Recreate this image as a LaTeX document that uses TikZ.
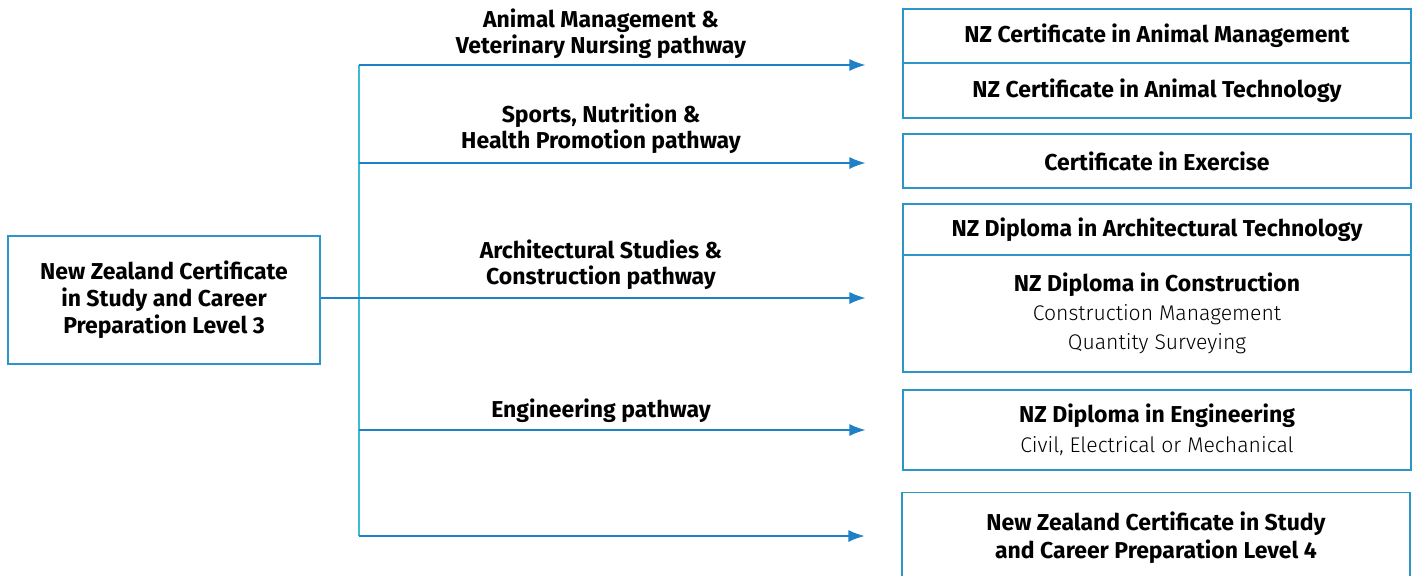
\documentclass[tikz,border=0pt]{standalone}
\usepackage{fontspec}
\setmainfont{Fira Sans}
\newfontfamily\lightfont{Fira Sans Light}
\usetikzlibrary{arrows.meta}
\definecolor{boxline}{RGB}{45,150,200}
\definecolor{flowline}{RGB}{30,128,198}
\definecolor{trunkline}{RGB}{60,188,210}
\tikzset{%
  >={Latex[width=6pt,length=8pt]},
  % Specifications for style of nodes:
       base/.style = {rectangle, draw=boxline, line width=0.6pt,
                      align=center, font=\bfseries\fontsize{11.5}{13.5}\selectfont},
    leftbox/.style = {base, minimum width=156pt, minimum height=64pt},
   rightbox/.style = {base, minimum width=254pt, inner sep=0pt},
  pathlabel/.style = {align=center, font=\bfseries\fontsize{11.5}{13}\selectfont},
       flow/.style = {->, draw=flowline, line width=0.6pt, shorten >=18.5pt},
                  }
\newcommand{\sub}[1]{{\lightfont\mdseries\fontsize{10.6}{14.5}\selectfont #1}}

\begin{document}
\begin{tikzpicture}[x=0.5pt, y=-0.5pt]
  \useasboundingbox (0,0) rectangle (1415,575);
  % Specification of nodes (position, etc.)
  \node (lvl3)    [leftbox]                        at (164,300)  {New Zealand Certificate\\in Study and Career\\Preparation Level 3};
  \node (animMgmt) [rightbox, minimum height=27pt]  at (1157,36)  {NZ Certificate in Animal Management};
  \node (animTech) [rightbox, minimum height=27.5pt] at (1157,90.5) {NZ Certificate in Animal Technology};
  \node (exercise) [rightbox, minimum height=27pt]  at (1157,161) {Certificate in Exercise};
  \node (archTech) [rightbox, minimum height=25.5pt] at (1157,229.5) {NZ Diploma in Architectural Technology};
  \node (constr)   [rightbox, minimum height=58.5pt, font=\bfseries\fontsize{11.5}{14.5}\selectfont]
                   at (1157,313.5) {NZ Diploma in Construction\\\sub{Construction Management}\\\sub{Quantity Surveying}};
  \node (engin)    [rightbox, minimum height=40pt, font=\bfseries\fontsize{11.5}{15}\selectfont]
                   at (1157,430) {NZ Diploma in Engineering\\\sub{Civil, Electrical or Mechanical}};
  \node (lvl4)     [rightbox, minimum height=45pt, font=\bfseries\fontsize{11.5}{14}\selectfont]
                   at (1156,537.5) {New Zealand Certificate in Study\\and Career Preparation Level 4};

  % Pathway labels
  \node (lblAnim)  [pathlabel] at (601,34)    {Animal Management \&\\Veterinary Nursing pathway};
  \node (lblSport) [pathlabel] at (601,128.5) {Sports, Nutrition \&\\Health Promotion pathway};
  \node (lblArch)  [pathlabel] at (601,264.5) {Architectural Studies \&\\Construction pathway};
  \node (lblEng)   [pathlabel] at (601,411)   {Engineering pathway};

  % Junctions on the trunk line
  \coordinate (jAnim)  at (359,65);
  \coordinate (jSport) at (359,163);
  \coordinate (jArch)  at (359,298);
  \coordinate (jEng)   at (359,430);
  \coordinate (jStudy) at (359,536);

  % Specification of lines between nodes specified above
  \draw[trunkline, line width=0.6pt] (jAnim) -- (jStudy);
  \draw[flowline, line width=0.6pt]  (lvl3.east |- jArch) -- (jArch);
  \draw[flow] (jAnim)  -- (jAnim -| animMgmt.west);
  \draw[flow] (jSport) -- (jSport -| exercise.west);
  \draw[flow] (jArch)  -- (jArch -| constr.west);
  \draw[flow] (jEng)   -- (jEng -| engin.west);
  \draw[flow] (jStudy) -- (jStudy -| lvl4.west);
\end{tikzpicture}
\end{document}
